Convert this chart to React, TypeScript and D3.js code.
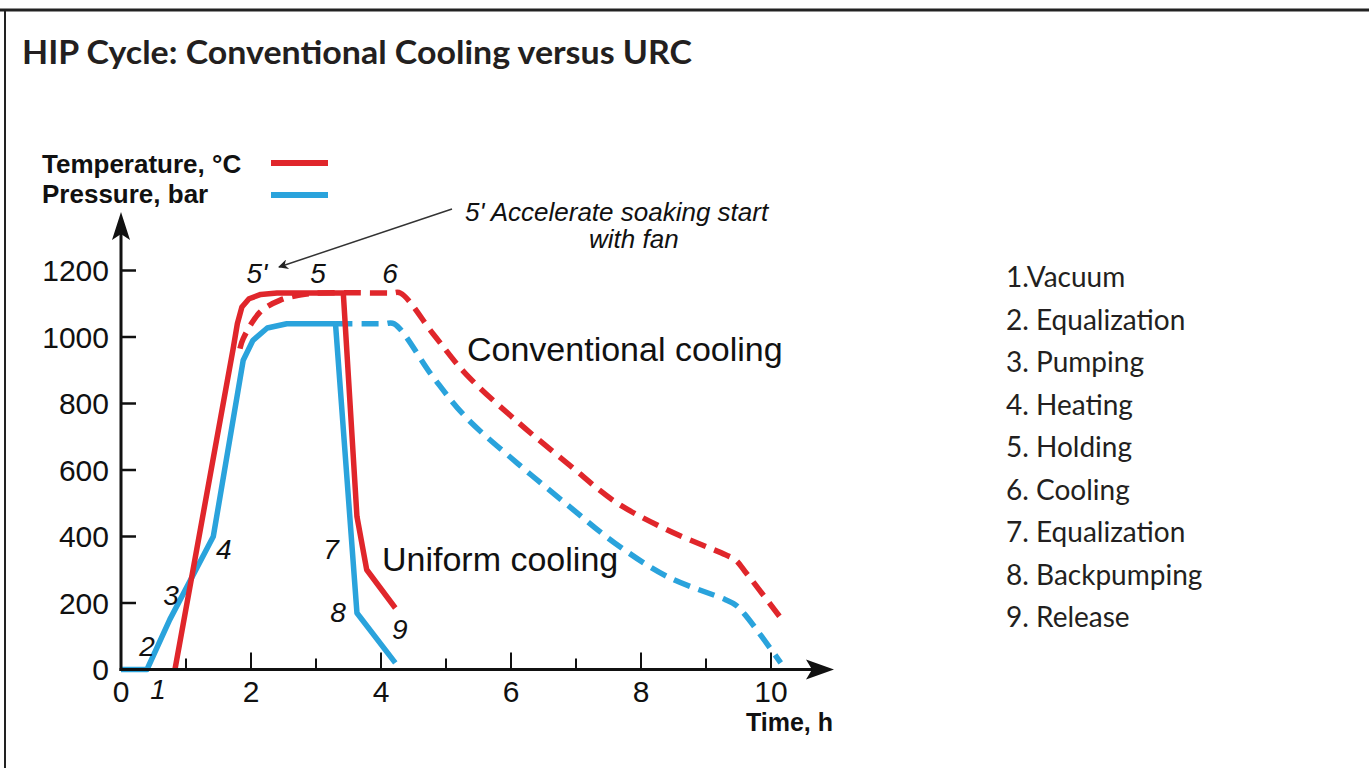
import * as d3 from "d3";

// phases listed at right
const phases = [
  "1.Vacuum",
  "2. Equalization",
  "3. Pumping",
  "4. Heating",
  "5. Holding",
  "6. Cooling",
  "7. Equalization",
  "8. Backpumping",
  "9. Release",
];

const xTicks = [1, 2, 3, 4, 5, 6, 7, 8, 9, 10];
const xLabels = [0, 2, 4, 6, 8, 10];
const yTicks = [200, 400, 600, 800, 1000, 1200];
const yLabels = [0, 200, 400, 600, 800, 1000, 1200];

// URC (uniform cooling) – solid
const tempUrcT = [0.83, 1.73, 1.79, 1.86, 1.97, 2.15, 2.4, 3.42, 3.63, 3.78, 4.22];
const tempUrcV = [0, 970, 1040, 1090, 1115, 1128, 1132, 1132, 460, 300, 185];
const presUrcT = [0, 0.4, 0.75, 1.42, 1.88, 2.03, 2.25, 2.55, 3.3, 3.63, 4.22];
const presUrcV = [0, 0, 150, 400, 930, 990, 1027, 1040, 1040, 170, 20];

// conventional cooling – dashed
const tempConvT = [1.83, 1.88, 2.14, 2.45, 2.75, 3.0, 4.15, 4.3, 4.8, 5.3, 6.1, 6.9, 7.6, 8.4, 9.3, 9.45, 9.6, 10.15];
const tempConvV = [965, 995, 1075, 1111, 1126, 1132, 1132, 1132, 1010, 890, 745, 615, 505, 420, 345, 330, 295, 155];
const presConvT = [3.3, 4.05, 4.2, 4.8, 5.3, 6.1, 6.9, 7.6, 8.4, 9.3, 9.45, 9.6, 10.15];
const presConvV = [1040, 1040, 1040, 880, 760, 620, 490, 380, 280, 210, 195, 165, 20];

// stage numbers on the curves
const markT = [0.57, 0.4, 0.77, 1.58, 3.23, 3.34, 4.29];
const markV = [-59, 71, 224, 362, 362, 173, 122];
const markText = ["1", "2", "3", "4", "7", "8", "9"];

const RED = "#e0262b";
const BLUE = "#2aa3dc";
const SANS = "'Liberation Sans', Arial, Helvetica, sans-serif";
const GILL = "Lato, 'Open Sans', sans-serif";

const App = () => {
  const width = 1369;
  const height = 768;
  const x = d3.scaleLinear().domain([0, 10]).range([121, 771]);
  const y = d3.scaleLinear().domain([0, 1200]).range([669.5, 270.5]);

  const pts = (ts: number[], vs: number[]) =>
    ts.map((t, i) => [t, vs[i]] as [number, number]);
  const straight = d3
    .line<[number, number]>()
    .x((d) => x(d[0]))
    .y((d) => y(d[1]));
  const smooth = d3
    .line<[number, number]>()
    .x((d) => x(d[0]))
    .y((d) => y(d[1]))
    .curve(d3.curveCatmullRom.alpha(0.5));

  const x0 = x(0);
  const y0 = y(0);

  return (
    <svg
      width={width}
      height={height}
      style={{ position: "absolute", left: 0, top: 0, background: "#fff" }}
    >
      <defs>
        <marker
          id="annArrow"
          viewBox="0 0 10 10"
          refX="9"
          refY="5"
          markerWidth="12"
          markerHeight="10"
          markerUnits="userSpaceOnUse"
          orient="auto"
        >
          <path d="M0,0 L10,5 L0,10 L3,5 Z" fill="#222" />
        </marker>
      </defs>

      {/* frame */}
      <line x1={0} x2={width} y1={10} y2={10} stroke="#222" strokeWidth={3} />
      <line x1={5} x2={5} y1={10} y2={height} stroke="#222" strokeWidth={2} />

      <text x={22} y={64} fontFamily={GILL} fontWeight="bold" fontSize={32} fill="#231f20" textLength={670} lengthAdjust="spacingAndGlyphs">
        HIP Cycle: Conventional Cooling versus URC
      </text>

      {/* legend */}
      <g fontFamily={SANS} fontWeight="bold" fontSize={26} fill="#111">
        <text x={42} y={173}>Temperature, °C</text>
        <text x={42} y={203}>Pressure, bar</text>
      </g>
      <line x1={271} x2={328} y1={163} y2={163} stroke={RED} strokeWidth={6} />
      <line x1={271} x2={328} y1={195} y2={195} stroke={BLUE} strokeWidth={6} />

      {/* curves */}
      <g fill="none" strokeWidth={5.5} strokeLinejoin="round">
        <path d={smooth(pts(presConvT, presConvV)) || ""} stroke={BLUE} strokeDasharray="17 9" />
        <path d={smooth(pts(tempConvT, tempConvV)) || ""} stroke={RED} strokeDasharray="17 9" />
        <path d={straight(pts(presUrcT, presUrcV)) || ""} stroke={BLUE} />
        <path d={straight(pts(tempUrcT, tempUrcV)) || ""} stroke={RED} />
      </g>

      {/* axes */}
      <g stroke="#111" strokeWidth={3}>
        <line x1={x0} x2={x0} y1={y0 + 1.5} y2={226} />
        <line x1={x0 - 1.5} x2={822} y1={y0} y2={y0} />
        {yTicks.map((v) => (
          <line key={v} x1={x0} x2={x0 + 15} y1={y(v)} y2={y(v)} strokeWidth={2.5} />
        ))}
        {xTicks.map((t) => (
          <line
            key={t}
            x1={x(t)}
            x2={x(t)}
            y1={y0}
            y2={y0 - (t % 2 === 0 ? 17 : 11)}
            strokeWidth={2}
          />
        ))}
      </g>
      <path d={`M${x0},212 L${x0 - 9},240 L${x0},234 L${x0 + 9},240 Z`} fill="#111" />
      <path d={`M834,${y0} L806,${y0 - 10} L812,${y0} L806,${y0 + 10} Z`} fill="#111" />

      <g fontFamily={SANS} fontSize={30} fill="#111">
        {yLabels.map((v) => (
          <text key={v} x={109} y={y(v)} dy="0.36em" textAnchor="end">
            {v}
          </text>
        ))}
        {xLabels.map((t) => (
          <text key={t} x={x(t)} y={702} textAnchor="middle">
            {t}
          </text>
        ))}
      </g>
      <text x={833} y={731} textAnchor="end" fontFamily={SANS} fontWeight="bold" fontSize={25} fill="#111">
        Time, h
      </text>

      {/* stage marks */}
      <g fontFamily={SANS} fontStyle="italic" fontSize={28} fill="#111" textAnchor="middle">
        {markText.map((m, i) => (
          <text key={m} x={x(markT[i])} y={y(markV[i])} dy="0.36em">
            {m}
          </text>
        ))}
        <text x={257} y={283}>5'</text>
        <text x={318} y={283}>5</text>
        <text x={390} y={283}>6</text>
      </g>

      {/* annotation */}
      <line x1={452} x2={279} y1={209} y2={267} stroke="#333" strokeWidth={1.5} markerEnd="url(#annArrow)" />
      <g fontFamily={SANS} fontStyle="italic" fontSize={26} fill="#111">
        <text x={465} y={221}>5' Accelerate soaking start</text>
        <text x={589} y={248}>with fan</text>
      </g>

      <g fontFamily={SANS} fontSize={34} fill="#111">
        <text x={467} y={361}>Conventional cooling</text>
        <text x={382} y={571}>Uniform cooling</text>
      </g>

      {/* phase list */}
      <g fontFamily={GILL} fontSize={28} fill="#231f20">
        {phases.map((p, i) => (
          <text key={p} x={1006} y={287 + i * 42.5}>
            {p}
          </text>
        ))}
      </g>
    </svg>
  );
};

export default App;
